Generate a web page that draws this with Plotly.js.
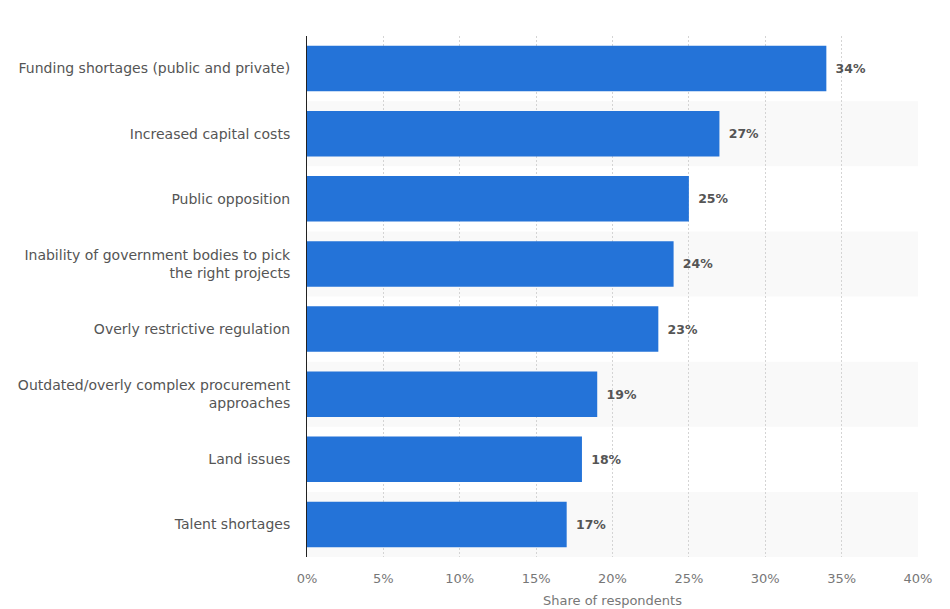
<!DOCTYPE html>
<html>
<head>
<meta charset="utf-8">
<script src="https://cdn.plot.ly/plotly-3.0.1.min.js"></script>
<style>html,body{margin:0;padding:0;background:#fff;}#chart{width:950px;height:609px;}</style>
</head>
<body>
<div id="chart"></div>
<script>
const categories = [
  "Funding shortages (public and private)",
  "Increased capital costs",
  "Public opposition",
  "Inability of government bodies to pick<br>the right projects",
  "Overly restrictive regulation",
  "Outdated/overly complex procurement<br>approaches",
  "Land issues",
  "Talent shortages"
];
const values = [34, 27, 25, 24, 23, 19, 18, 17];
const tickVals = [0, 5, 10, 15, 20, 25, 30, 35, 40];
const tickText = ["0%", "5%", "10%", "15%", "20%", "25%", "30%", "35%", "40%"];

const FONT = "DejaVu Sans, Verdana, sans-serif";

const stripes = [];
categories.forEach((c, i) => {
  if (i % 2 === 1) {
    stripes.push({
      type: "rect", layer: "below", xref: "paper", yref: "y",
      x0: 0, x1: 1, y0: i - 0.5, y1: i + 0.5,
      fillcolor: "#f9f9f9", line: {width: 0}
    });
  }
});

const data = [{
  type: "bar",
  orientation: "h",
  y: categories,
  x: values,
  marker: {color: "#2473d8"},
  width: 0.7,
  text: values.map(v => v + "%"),
  texttemplate: "\u2002%{text}",
  textposition: "outside",
  cliponaxis: false,
  textfont: {family: FONT, size: 12.5, color: "#555555", weight: "bold"},
  hoverinfo: "skip"
}];

const layout = {
  width: 950, height: 609,
  margin: {l: 307, r: 32, t: 36, b: 52},
  paper_bgcolor: "#ffffff",
  plot_bgcolor: "#ffffff",
  showlegend: false,
  font: {family: FONT, size: 12, color: "#666666"},
  shapes: stripes,
  xaxis: {
    range: [0, 40],
    tickvals: tickVals,
    ticktext: tickText,
    showgrid: true,
    gridcolor: "#d4d4d4",
    griddash: "2px,2px",
    gridwidth: 1,
    zeroline: false,
    showline: false,
    ticks: "",
    ticklabelstandoff: 12,
    tickfont: {family: FONT, size: 13, color: "#777777"},
    title: {text: "Share of respondents", font: {family: FONT, size: 13, color: "#777777"}, standoff: 10},
    fixedrange: true
  },
  yaxis: {
    type: "category",
    autorange: "reversed",
    showgrid: false,
    zeroline: false,
    showline: true,
    linecolor: "#222222",
    linewidth: 1,
    ticks: "",
    ticklabelstandoff: 13,
    tickfont: {family: FONT, size: 14, color: "#555555"},
    fixedrange: true
  }
};

Plotly.newPlot("chart", data, layout, {displayModeBar: false, staticPlot: true});
</script>
</body>
</html>
